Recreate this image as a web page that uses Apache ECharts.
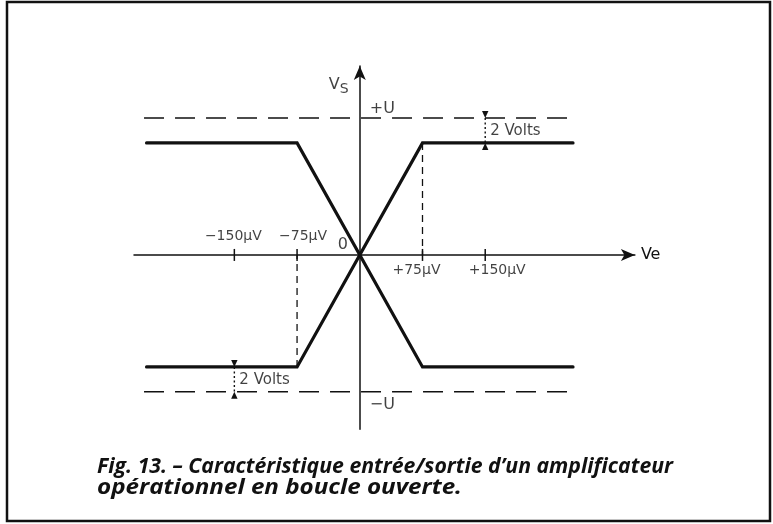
<!DOCTYPE html>
<html>
<head>
<meta charset="utf-8">
<script src="https://cdn.jsdelivr.net/npm/echarts@6/dist/echarts.min.js"></script>
<style>
  html, body { margin: 0; padding: 0; background: #fff; }
  #chart { width: 773px; height: 524px; }
</style>
</head>
<body>
<div id="chart"></div>
<script>
// Open-loop op-amp transfer characteristic: Vs versus Ve
const veBreaks = [-255, -75, 75, 255];          // input voltage breakpoints (µV)
const vsNonInverting = [-9, -9, 9, 9];          // output, rising characteristic (V)
const vsInverting = [9, 9, -9, -9];             // output, falling characteristic (V)
const supplyU = 11;                             // supply rails ±U (V)
const supplyExtent = [-258, 255];               // horizontal extent of the rail lines (µV)
const tickValues = [-150, -75, 75, 150];        // marked input values (µV)
const tickLabels = ['−150µV', '−75µV', '+75µV', '+150µV'];
const headroomAt = [150, -150];                 // where the 2 V headroom is dimensioned (µV)
const headroomText = '2 Volts';
const captionLines = [
  'Fig. 13. – Caractéristique entrée/sortie d\u2019un amplificateur',
  'opérationnel en boucle ouverte.'
];

const INK = '#111';
const LABEL_FONT = '"DejaVu Sans", sans-serif';
const CAPTION_FONT = 'italic bold 21px "Open Sans", sans-serif';
// caption block: left edge, line tops and the set width of each line
const captionLayout = { left: 97, tops: [457, 478], widths: [576, 365] };

const pairs = (xs, ys) => xs.map((x, i) => [x, ys[i]]);
const vsat = vsNonInverting[vsNonInverting.length - 1];

// tick labels: negative side above the axis, positive side below
const tickLabelShift = { '-150': [-1, -19], '-75': [6, -19], '75': [-6, 15], '150': [12, 15] };
const tickLabelData = tickValues.map((v, i) => ({
  value: [v, 0],
  label: { formatter: tickLabels[i], offset: tickLabelShift[String(v)] }
}));

// headroom dimension marks span from the saturation level to the rail
const headroomData = headroomAt.map(x => x > 0 ? [x, vsat, supplyU] : [x, -supplyU, -vsat]);
const headroomLabelData = headroomData.map(d => ({
  value: [d[0], (d[1] + d[2]) / 2],
  label: { formatter: headroomText, offset: [5, 1] }
}));

const axisNotes = [
  { value: [0, supplyU], label: { formatter: '+U', offset: [10, -9], align: 'left' } },
  { value: [0, -supplyU], label: { formatter: '−U', offset: [10, 13], align: 'left' } },
  { value: [0, 0], label: { formatter: '0', offset: [-17, -10], align: 'center' } },
  { value: [0, supplyU], label: { formatter: 'V{s|S}', offset: [-31, -33], align: 'left' } }
];

// caption lines are set to a fixed measure, condensing or widening the face
const measureCtx = document.createElement('canvas').getContext('2d');
measureCtx.font = CAPTION_FONT;
const captionGraphics = captionLines.map((line, i) => {
  const natural = measureCtx.measureText(line).width || captionLayout.widths[i];
  return {
    type: 'text', x: captionLayout.left, y: captionLayout.tops[i],
    scaleX: captionLayout.widths[i] / natural, silent: true,
    style: { text: line, fill: INK, font: CAPTION_FONT, verticalAlign: 'top', align: 'left' }
  };
});

const chart = echarts.init(document.getElementById('chart'), null, { renderer: 'canvas' });

chart.setOption({
  backgroundColor: '#fff',
  animation: false,
  grid: { left: 134, top: 66, width: 500.9, height: 363.2, containLabel: false },
  xAxis: {
    type: 'value', min: -270, max: 329,
    axisLine: { onZero: true, symbol: ['none', 'arrow'], symbolSize: [9, 14],
      lineStyle: { color: INK, width: 1.5 } },
    axisTick: { show: false }, axisLabel: { show: false }, splitLine: { show: false },
    name: 'Ve', nameLocation: 'end', nameGap: 6,
    nameTextStyle: { color: INK, fontFamily: LABEL_FONT, fontSize: 16, align: 'left', verticalAlign: 'middle' }
  },
  yAxis: {
    type: 'value', min: -14, max: 15.18,
    axisLine: { onZero: true, symbol: ['none', 'arrow'], symbolSize: [9, 14],
      lineStyle: { color: INK, width: 1.5 } },
    axisTick: { show: false }, axisLabel: { show: false }, splitLine: { show: false }
  },
  series: [
    {
      name: 'rail +U', type: 'line', symbol: 'none', silent: true,
      data: supplyExtent.map(x => [x, supplyU]),
      lineStyle: { color: INK, width: 1.5, type: [20, 11] }
    },
    {
      name: 'rail -U', type: 'line', symbol: 'none', silent: true,
      data: supplyExtent.map(x => [x, -supplyU]),
      lineStyle: { color: INK, width: 1.5, type: [20, 11] }
    },
    {
      name: 'drop +', type: 'line', symbol: 'none', silent: true,
      data: [[veBreaks[2], vsat], [veBreaks[2], 0]],
      lineStyle: { color: INK, width: 1.3, type: [7, 5] }
    },
    {
      name: 'drop -', type: 'line', symbol: 'none', silent: true,
      data: [[veBreaks[1], -vsat], [veBreaks[1], 0]],
      lineStyle: { color: INK, width: 1.3, type: [7, 5] }
    },
    {
      name: 'Vs non-inverting', type: 'line', symbol: 'none', silent: true,
      data: pairs(veBreaks, vsNonInverting),
      lineStyle: { color: INK, width: 3.2, cap: 'round', join: 'miter' }, z: 5
    },
    {
      name: 'Vs inverting', type: 'line', symbol: 'none', silent: true,
      data: pairs(veBreaks, vsInverting),
      lineStyle: { color: INK, width: 3.2, cap: 'round', join: 'miter' }, z: 5
    },
    {
      // tick marks crossing the Ve axis
      name: 'ticks', type: 'custom', silent: true,
      data: tickValues.map(v => [v, 0]),
      renderItem: (params, api) => {
        const p = api.coord([api.value(0), api.value(1)]);
        return { type: 'line', shape: { x1: p[0], y1: p[1] - 6, x2: p[0], y2: p[1] + 6 },
          style: { stroke: INK, lineWidth: 1.5 } };
      }
    },
    {
      // dimension marks: dotted line with arrows pointing at both levels
      name: 'headroom', type: 'custom', silent: true,
      data: headroomData,
      renderItem: (params, api) => {
        const x = api.value(0);
        const lo = api.coord([x, api.value(1)]);
        const hi = api.coord([x, api.value(2)]);
        const px = lo[0], top = hi[1], bot = lo[1], a = 7, w = 3.2;
        return { type: 'group', children: [
          { type: 'line', shape: { x1: px, y1: top, x2: px, y2: bot },
            style: { stroke: INK, lineWidth: 1.4, lineDash: [2, 2.5] } },
          { type: 'polygon', shape: { points: [[px, top], [px - w, top - a], [px + w, top - a]] },
            style: { fill: INK } },
          { type: 'polygon', shape: { points: [[px, bot], [px - w, bot + a], [px + w, bot + a]] },
            style: { fill: INK } }
        ] };
      }
    },
    {
      name: 'tick labels', type: 'scatter', symbolSize: 0, silent: true,
      data: tickLabelData,
      label: { show: true, position: 'inside', align: 'center', verticalAlign: 'middle',
        color: INK, fontFamily: LABEL_FONT, fontSize: 14 }
    },
    {
      name: 'headroom labels', type: 'scatter', symbolSize: 0, silent: true,
      data: headroomLabelData,
      label: { show: true, position: 'inside', align: 'left', verticalAlign: 'middle',
        color: INK, fontFamily: LABEL_FONT, fontSize: 15 }
    },
    {
      name: 'axis notes', type: 'scatter', symbolSize: 0, silent: true,
      data: axisNotes,
      label: { show: true, position: 'inside', verticalAlign: 'middle',
        color: INK, fontFamily: LABEL_FONT, fontSize: 16,
        rich: { s: { fontFamily: LABEL_FONT, fontSize: 14, color: INK, padding: [9, 0, 0, 0] } } }
    }
  ],
  graphic: [
    { type: 'rect', shape: { x: 7, y: 2, width: 763, height: 519 },
      style: { fill: 'none', stroke: INK, lineWidth: 2.5 }, silent: true }
  ].concat(captionGraphics)
});
</script>
</body>
</html>
